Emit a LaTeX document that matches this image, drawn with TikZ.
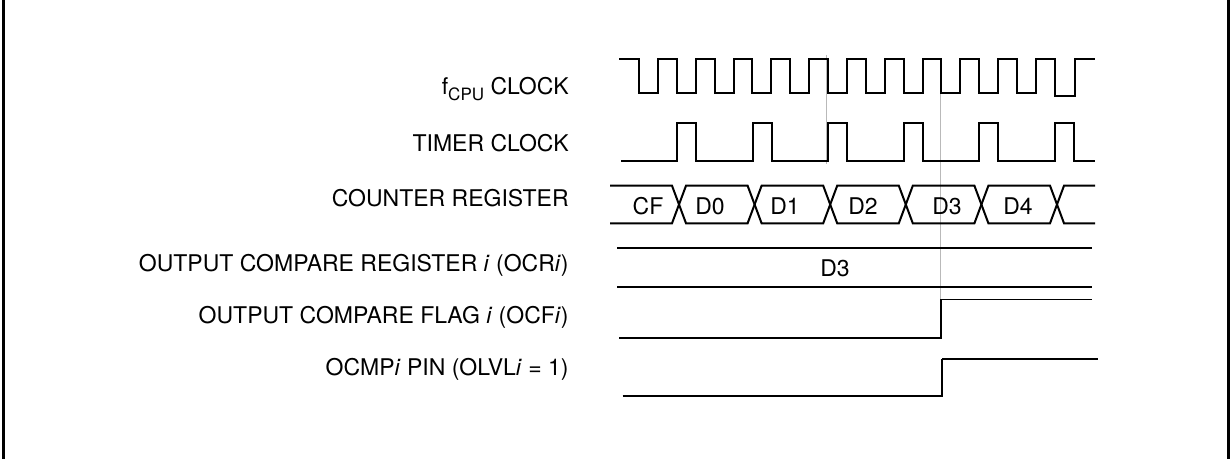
\documentclass[tikz,border=0pt]{standalone}
\usepackage{fontspec}
\setmainfont{TeX Gyre Heros}
\begin{document}
\begin{tikzpicture}
[
    x=0.5pt, y=-0.5pt,
    every node/.style={font=\fontsize{11.5}{13.8}\selectfont, inner sep=0pt},
    signame/.style={anchor=base east},
    busval/.style={anchor=base},
    wave/.style={line width=1pt, line join=miter},
    thinwave/.style={line width=0.6pt},
    marker/.style={gray!55, line width=0.5pt}
]
    \useasboundingbox (0,0) rectangle (1230,459);
    \draw [line width=1.25pt] (3.3,0) -- (3.3,459) (1228.7,0) -- (1228.7,459);

    \node [signame] (cpulbl) at (569,94.3)
        {f\raisebox{-3.2pt}{\fontsize{8.5}{10}\selectfont CPU} CLOCK};
    \node [signame] (timerlbl) at (569,151.7) {TIMER CLOCK};
    \node [signame] (cntlbl) at (569,206.7) {COUNTER REGISTER};
    \node [signame] (ocrlbl) at (569,271.7)
        {OUTPUT COMPARE REGISTER \textit{i} (OCR\textit{i})};
    \node [signame] (ocflbl) at (569,323.3)
        {OUTPUT COMPARE FLAG \textit{i} (OCF\textit{i})};
    \node [signame] (ocmplbl) at (569,375) {OCMP\textit{i} PIN (OLVL\textit{i} = 1)};

    \draw [marker] (826.7,55) -- (826.7,164);
    \draw [marker] (940.8,90) -- (940.8,299.3);

    \draw [wave] (619,59)
        \foreach \k in {0,...,10} {
            -- ({639+37.8*\k},59) -- ({639+37.8*\k},92.7)
            -- ({657.9+37.8*\k},92.7) -- ({657.9+37.8*\k},59)
        }
        -- (1054.8,59) -- (1054.8,96.5) -- (1074.5,96.5) -- (1074.5,59) -- (1095,59);

    \draw [wave] (621,160.7)
        \foreach \k in {0,...,5} {
            -- ({677+75.6*\k},160.7) -- ({677+75.6*\k},123.3)
            -- ({695.9+75.6*\k},123.3) -- ({695.9+75.6*\k},160.7)
        }
        -- (1095,160.7);

    \draw [wave] (610,185.7) -- (672,185.7) -- (679,204.5) -- (672,223.3) -- (610,223.3);
    \node [busval] (valCF) at (648,215) {CF};
    \foreach \v/\xx [count=\j from 0] in {D0/710, D1/785, D2/863, D3/947, D4/1018} {
        \draw [wave] ({679+75.6*\j},204.5) -- ++(7,-18.8) -- ({747.6+75.6*\j},185.7)
            -- ++(7,18.8) -- ++(-7,18.8) -- ({686+75.6*\j},223.3) -- cycle;
        \node [busval] (val\v) at (\xx,215) {\v};
    }
    \draw [wave] (1095,185.7) -- (1064,185.7) -- (1057,204.5) -- (1064,223.3) -- (1095,223.3);

    \draw [wave] (617,248.3) -- (1092,248.3) (617,286.7) -- (1092,286.7);
    \node [busval] (ocrval) at (835,276.7) {D3};

    \draw [wave] (619,337.7) -- (941,337.7) -- (941,299.3);
    \draw [thinwave] (941,299.3) -- (1092,299.3);

    \draw [wave] (622.7,396) -- (942.3,396) -- (942.3,359);
    \draw [thinwave] (942.3,359) -- (1098,359);
\end{tikzpicture}
\end{document}
